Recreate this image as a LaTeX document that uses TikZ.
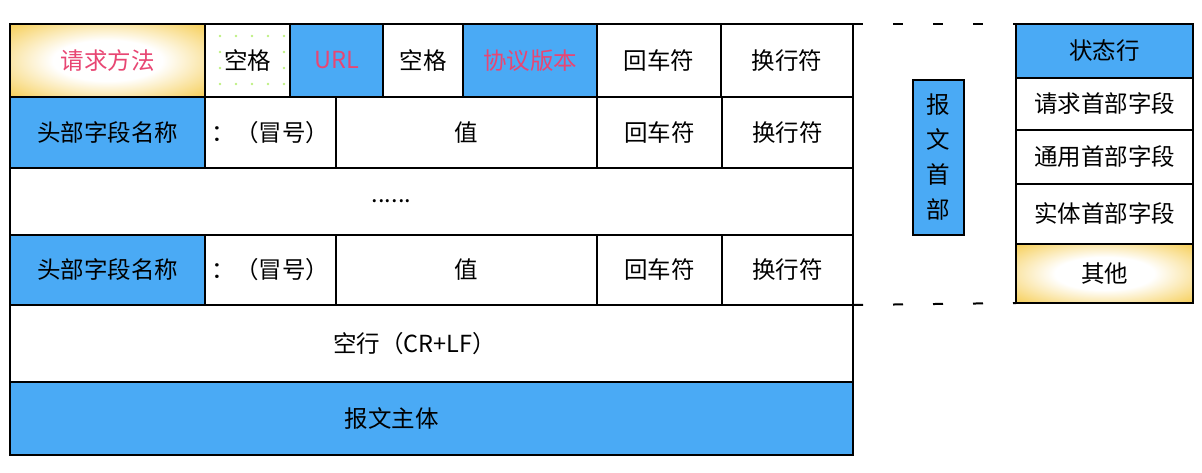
\documentclass[tikz,border=0pt]{standalone}
\usepackage{fontspec}
\setmainfont{Noto Sans CJK SC}

\definecolor{hblue}{RGB}{74,170,245}
\definecolor{hgold}{RGB}{245,200,66}
\definecolor{hpink}{RGB}{232,70,115}
\definecolor{hdot}{RGB}{190,240,130}
\pgfdeclareradialshading{goldglow}{\pgfpoint{0bp}{0bp}}{color(0bp)=(white);color(14bp)=(white);color(38bp)=(hgold);color(72bp)=(hgold)}

\begin{document}
\begin{tikzpicture}[x=1pt,y=-1pt,font=\fontsize{23.5pt}{28pt}\selectfont]
  \tikzset{cell/.style 2 args={draw,line width=2pt,inner sep=0pt,outer sep=0pt,
      minimum width=#1pt,minimum height=#2pt},
    blue/.style={fill=hblue},
    gold/.style={shade,shading=goldglow}}
  \useasboundingbox (0,0) rectangle (1202,472);

  % request line
  \foreach \i in {220,236,252,268,284} {
    \fill[hdot] (\i,36) circle (1.3pt);
    \fill[hdot] (\i,84) circle (1.3pt);
  }
  \foreach \j in {52,68} {
    \fill[hdot] (220,\j) circle (1.3pt);
    \fill[hdot] (284,\j) circle (1.3pt);
  }
  \node[cell={195}{73},gold,text=hpink] (method) at (107.5,60.5) {请求方法};
  \node[cell={85}{73}]                  (sp1)    at (247.5,60.5) {空格};
  \node[cell={93}{73},blue,text=hpink]  (url)    at (336.5,60.5) {URL};
  \node[cell={80}{73}]                  (sp2)    at (423,60.5)   {空格};
  \node[cell={134}{73},blue,text=hpink] (ver)    at (530,60.5)   {协议版本};
  \node[cell={124}{73}]                 (cr1)    at (659,60.5)   {回车符};
  \node[cell={132}{73}]                 (lf1)    at (787,60.5)   {换行符};

  % header lines
  \node[cell={195}{71},blue] (name1)  at (107.5,132.5) {头部字段名称};
  \node[cell={131}{71}]      (colon1) at (270.5,132.5) {：（冒号）};
  \node[cell={261}{71}]      (val1)   at (466.5,132.5) {值};
  \node[cell={125}{71}]      (cr2)    at (659.5,132.5) {回车符};
  \node[cell={131}{71}]      (lf2)    at (787.5,132.5) {换行符};

  \node[cell={843}{67},label={[xshift=-40pt]center:......}] (more) at (431.5,201.5) {};

  \node[cell={195}{70},blue] (name2)  at (107.5,270) {头部字段名称};
  \node[cell={131}{70}]      (colon2) at (270.5,270) {：（冒号）};
  \node[cell={261}{70}]      (val2)   at (466.5,270) {值};
  \node[cell={125}{70}]      (cr3)    at (659.5,270) {回车符};
  \node[cell={131}{70}]      (lf3)    at (787.5,270) {换行符};

  % blank line and body
  \node[cell={843}{77},label={[xshift=-17pt]center:空行（CR+LF）}] (blank) at (431.5,343.5) {};
  \node[cell={843}{73},blue,label={[xshift=-40pt]center:报文主体}] (body) at (431.5,418.5) {};

  \node[cell={51}{155},blue,align=center,font=\fontsize{23.5pt}{35pt}\selectfont]
    (head) at (938.5,157.5) {报\\文\\首\\部};

  % header parts
  \node[cell={177}{54},blue] (status) at (1104.5,51)    {状态行};
  \node[cell={177}{52}]      (req)    at (1104.5,104)   {请求首部字段};
  \node[cell={177}{54}]      (gen)    at (1104.5,157)   {通用首部字段};
  \node[cell={177}{60}]      (ent)    at (1104.5,214)   {实体首部字段};
  \node[cell={177}{59},gold] (other)  at (1104.5,273.5) {其他};

  \draw[line width=2pt,dash pattern=on 10pt off 30pt] (lf1.north east) -- (status.north west);
  \draw[line width=2pt,dash pattern=on 10pt off 30pt] (lf3.south east) -- (other.south west);
\end{tikzpicture}
\end{document}
